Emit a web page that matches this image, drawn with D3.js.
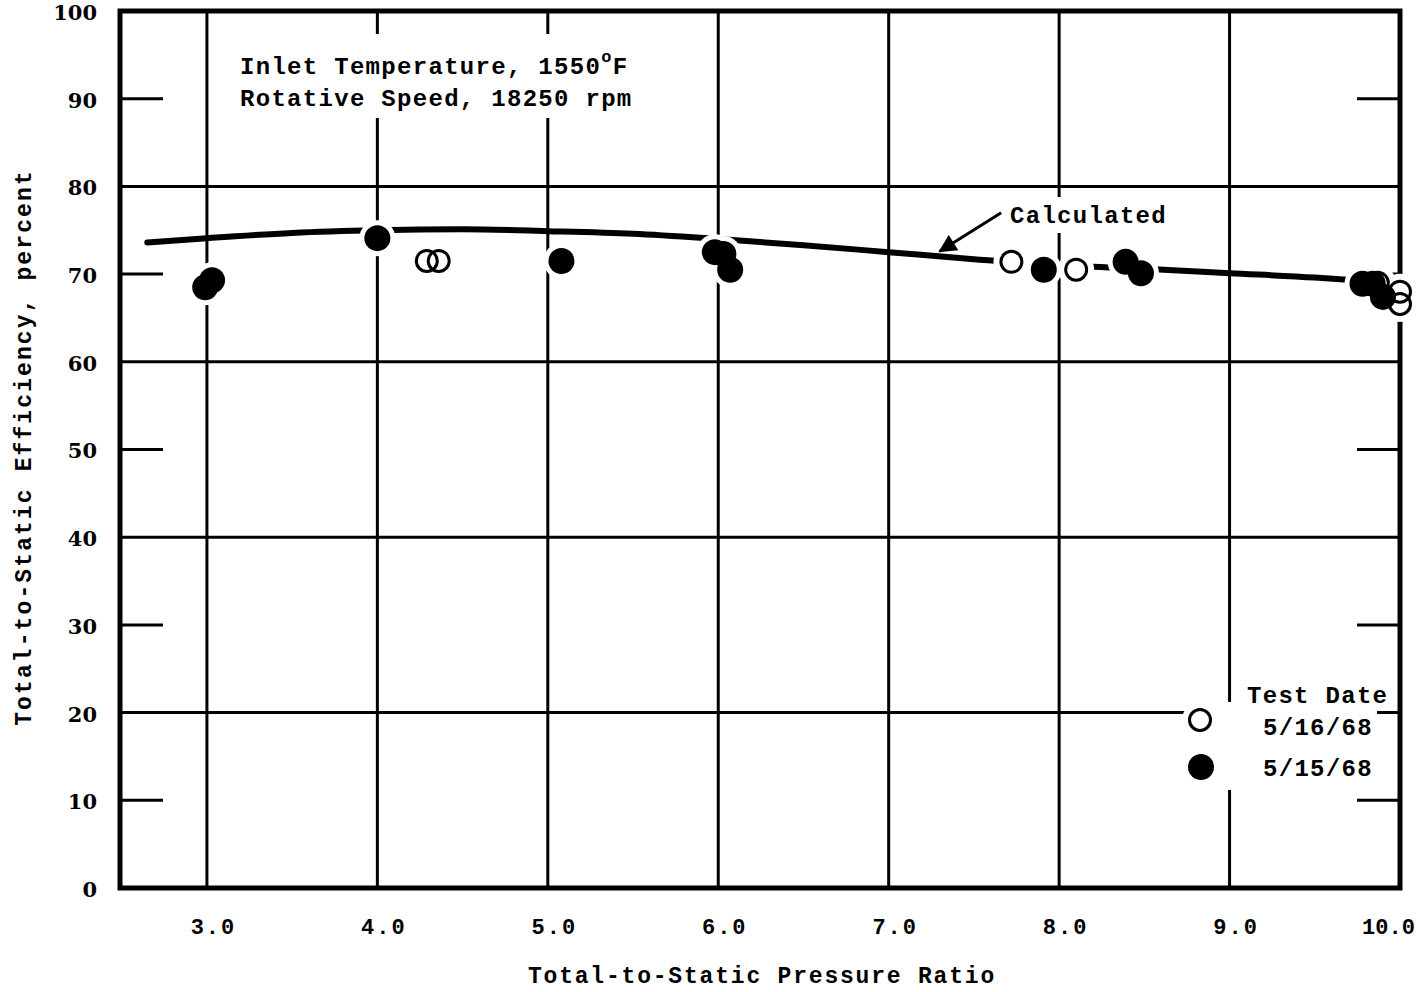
<!DOCTYPE html>
<html>
<head>
<meta charset="utf-8">
<script src="https://cdn.jsdelivr.net/npm/d3@7"></script>
<style>
  body { margin: 0; background: #fff; }
  svg { display: block; }
</style>
</head>
<body>
<div id="chart"></div>
<script>
(function() {
  var xTicks, yTicks, yGridFull, yGridShort, calcX, calcY, openX, openY, filledX, filledY, arrowFrom, arrowTo,
      width, height, left, right, top, bottom, x, y, svg, grid, typeFont, drawCircles, line, calcData, legend, note, xLabels;

  // values
  xTicks = [3, 4, 5, 6, 7, 8, 9, 10];
  yTicks = [0, 10, 20, 30, 40, 50, 60, 70, 80, 90, 100];
  yGridFull = [20, 40, 60, 80];
  yGridShort = [10, 30, 50, 70, 90];
  calcX = [2.65, 3.0, 3.5, 4.0, 4.5, 5.0, 5.5, 6.0, 6.5, 7.0, 7.5, 8.0, 8.5, 9.0, 9.5, 9.8];
  calcY = [73.6, 74.1, 74.7, 75.0, 75.1, 74.9, 74.6, 74.0, 73.3, 72.5, 71.7, 71.0, 70.6, 70.1, 69.6, 69.2];
  openX = [4.29, 4.36, 7.72, 8.10, 9.87, 10.0, 10.0];
  openY = [71.5, 71.5, 71.4, 70.5, 69.0, 68.0, 66.6];
  filledX = [2.99, 3.03, 4.0, 5.08, 5.98, 6.03, 6.07, 7.91, 8.39, 8.48, 9.78, 9.84, 9.90];
  filledY = [68.5, 69.3, 74.1, 71.5, 72.5, 72.3, 70.5, 70.5, 71.4, 70.1, 68.9, 68.9, 67.4];
  arrowFrom = [7.66, 77.0];
  arrowTo = [7.30, 72.6];

  width = 1419;
  height = 992;
  left = 120;
  right = 1400;
  top = 11;
  bottom = 888;
  typeFont = "'Liberation Mono', 'DejaVu Sans Mono', monospace";

  x = d3.scaleLinear().domain([2.49, 10]).range([left, right]);
  y = d3.scaleLinear().domain([0, 100]).range([bottom, top]);

  svg = d3.select('#chart').append('svg').attr('width', width).attr('height', height);
  svg.append('rect').attr('width', width).attr('height', height).attr('fill', '#fff');

  grid = svg.append('g').attr('stroke', '#000').attr('stroke-width', 3);
  grid.selectAll('.vline').data(xTicks.slice(0, -1)).enter().append('line')
    .attr('x1', function(d) { return x(d); }).attr('x2', function(d) { return x(d); })
    .attr('y1', top).attr('y2', bottom);
  grid.selectAll('.hline').data(yGridFull).enter().append('line')
    .attr('x1', left).attr('x2', right)
    .attr('y1', function(d) { return y(d); }).attr('y2', function(d) { return y(d); });
  grid.selectAll('.ltick').data(yGridShort).enter().append('line')
    .attr('x1', left).attr('x2', left + 43)
    .attr('y1', function(d) { return y(d); }).attr('y2', function(d) { return y(d); });
  grid.selectAll('.rtick').data(yGridShort).enter().append('line')
    .attr('x1', right - 43).attr('x2', right)
    .attr('y1', function(d) { return y(d); }).attr('y2', function(d) { return y(d); });

  // calculated curve
  calcData = calcX.map(function(d, i) { return [d, calcY[i]]; });
  line = d3.line().x(function(d) { return x(d[0]); }).y(function(d) { return y(d[1]); }).curve(d3.curveMonotoneX);
  svg.append('path').datum(calcData).attr('d', line).attr('fill', 'none').attr('stroke', '#000')
    .attr('stroke-width', 6).attr('stroke-linecap', 'round');

  // white patches behind the lettering, as on the original sheet
  svg.append('rect').attr('x', 228).attr('y', 34).attr('width', 418).attr('height', 84).attr('fill', '#fff');
  svg.append('rect').attr('x', 1003).attr('y', 197).attr('width', 170).attr('height', 36).attr('fill', '#fff');
  svg.append('rect').attr('x', 1213).attr('y', 702).attr('width', 164).attr('height', 88).attr('fill', '#fff');
  svg.append('rect').attr('x', 1237).attr('y', 678).attr('width', 155).attr('height', 26).attr('fill', '#fff');

  // arrow to the calculated line
  svg.append('defs').append('marker').attr('id', 'head').attr('viewBox', '0 0 10 10')
    .attr('refX', 9).attr('refY', 5).attr('markerWidth', 7).attr('markerHeight', 6)
    .attr('markerUnits', 'strokeWidth').attr('orient', 'auto')
    .append('path').attr('d', 'M0,0 L10,5 L0,10 z').attr('fill', '#000');
  svg.append('line').attr('x1', x(arrowFrom[0])).attr('y1', y(arrowFrom[1]))
    .attr('x2', x(arrowTo[0])).attr('y2', y(arrowTo[1]))
    .attr('stroke', '#000').attr('stroke-width', 3).attr('marker-end', 'url(#head)');

  // frame
  svg.append('rect').attr('x', left).attr('y', top).attr('width', right - left).attr('height', bottom - top)
    .attr('fill', 'none').attr('stroke', '#000').attr('stroke-width', 5);

  drawCircles = function(xs, ys, filled) {
    var g = svg.append('g');
    g.selectAll('circle').data(xs).enter().append('circle')
      .attr('cx', function(d) { return x(d); })
      .attr('cy', function(d, i) { return y(ys[i]); })
      .attr('r', filled ? 13 : 10.5)
      .attr('fill', filled ? '#000' : 'none')
      .attr('stroke', '#000').attr('stroke-width', filled ? 0 : 3);
  };

  // halos that break lines around the points
  svg.append('g').selectAll('circle').data(openX.concat(filledX)).enter().append('circle')
    .attr('cx', function(d) { return x(d); })
    .attr('cy', function(d, i) { return y(openY.concat(filledY)[i]); })
    .attr('r', 18).attr('fill', '#fff');
  drawCircles(openX, openY, false);
  drawCircles(filledX, filledY, true);

  // axes labels
  svg.append('g').attr('transform', 'translate(' + (left - 20) + ',0)')
    .call(d3.axisLeft(y).tickValues(yTicks).tickSize(0).tickFormat(d3.format('d')))
    .call(function(g) { g.select('.domain').remove(); })
    .selectAll('text').attr('font-family', "'DejaVu Serif', serif").attr('font-weight', 'bold')
    .attr('font-size', 21).attr('fill', '#000').attr('dy', '0.4em');

  xLabels = svg.append('g').attr('transform', 'translate(6,' + (bottom + 27) + ')')
    .call(d3.axisBottom(x).tickValues(xTicks).tickSize(0).tickFormat(d3.format('.1f')))
    .call(function(g) { g.select('.domain').remove(); })
    .selectAll('text').attr('font-family', typeFont).attr('font-weight', 'bold')
    .attr('font-size', 22).attr('letter-spacing', 2).attr('fill', '#000');
  // the last label is typed tighter and sits inside the frame
  xLabels.filter(function(d) { return d === 10; }).attr('letter-spacing', 0).attr('x', -18);

  svg.append('text').attr('x', (left + right) / 2 + 2).attr('y', 983).attr('text-anchor', 'middle')
    .attr('font-family', typeFont).attr('font-weight', 'bold').attr('font-size', 23).attr('letter-spacing', 1.8)
    .text('Total-to-Static Pressure Ratio');

  svg.append('text').attr('transform', 'translate(31,' + ((top + bottom) / 2 - 2) + ') rotate(-90)')
    .attr('text-anchor', 'middle')
    .attr('font-family', typeFont).attr('font-weight', 'bold').attr('font-size', 23).attr('letter-spacing', 2.1)
    .text('Total-to-Static Efficiency, percent');

  // conditions note
  note = svg.append('text').attr('x', 240).attr('y', 74)
    .attr('font-family', typeFont).attr('font-weight', 'bold').attr('font-size', 24).attr('letter-spacing', 1.3);
  note.append('tspan').text('Inlet Temperature, 1550');
  note.append('tspan').attr('font-size', 17).attr('dy', -12).text('o');
  note.append('tspan').attr('dy', 12).text('F');
  svg.append('text').attr('x', 240).attr('y', 106)
    .attr('font-family', typeFont).attr('font-weight', 'bold').attr('font-size', 24).attr('letter-spacing', 1.3)
    .text('Rotative Speed, 18250 rpm');

  svg.append('text').attr('x', 1010).attr('y', 223)
    .attr('font-family', typeFont).attr('font-weight', 'bold').attr('font-size', 24).attr('letter-spacing', 1.3)
    .text('Calculated');

  // legend
  legend = svg.append('g').attr('font-family', typeFont).attr('font-weight', 'bold')
    .attr('font-size', 24).attr('letter-spacing', 1.3);
  legend.append('text').attr('x', 1247).attr('y', 703).text('Test Date');
  legend.append('circle').attr('cx', 1200).attr('cy', 720).attr('r', 18).attr('fill', '#fff');
  legend.append('circle').attr('cx', 1200).attr('cy', 720).attr('r', 10.5).attr('fill', 'none')
    .attr('stroke', '#000').attr('stroke-width', 3);
  legend.append('text').attr('x', 1263).attr('y', 735).text('5/16/68');
  legend.append('circle').attr('cx', 1201).attr('cy', 767).attr('r', 13).attr('fill', '#000');
  legend.append('text').attr('x', 1263).attr('y', 776).text('5/15/68');
}).call(this);
</script>
</body>
</html>
